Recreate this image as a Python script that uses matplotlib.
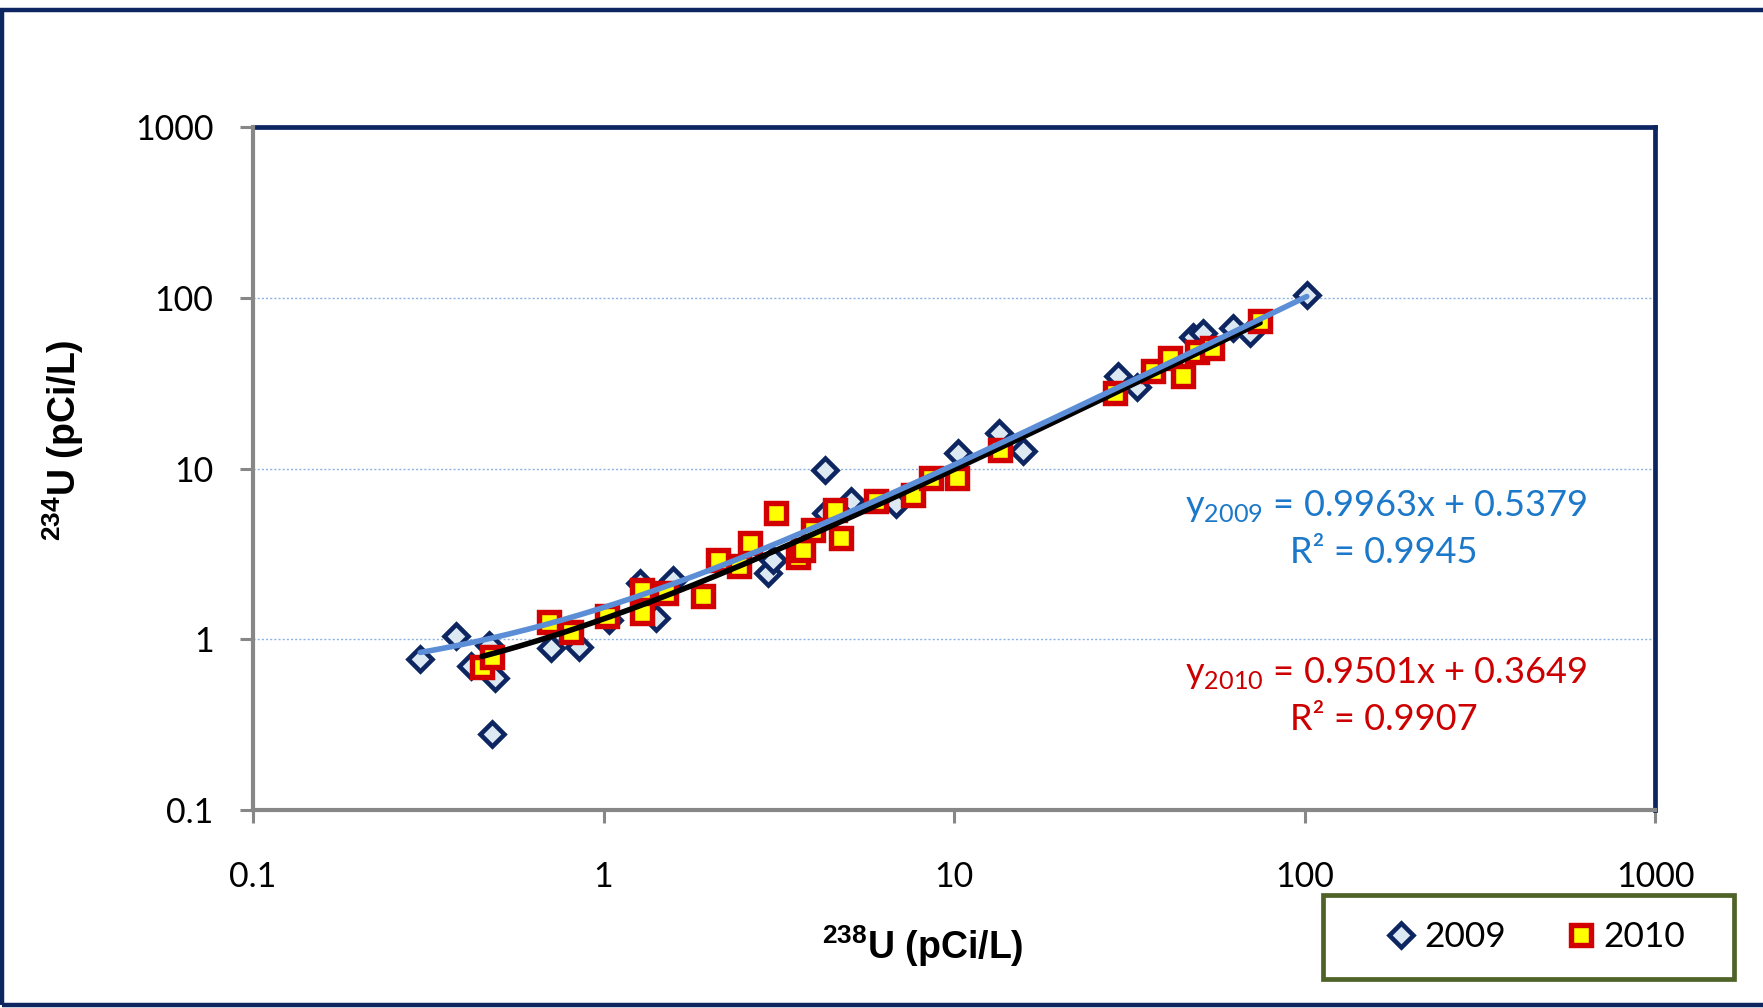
import numpy as np
import matplotlib
matplotlib.use("Agg")
import matplotlib.pyplot as plt
from matplotlib.lines import Line2D
from matplotlib.patches import Rectangle

# ---------------- data ----------------
x2009 = [0.30, 0.38, 0.42, 0.47, 0.48, 0.49, 0.71, 0.85, 1.04, 1.27, 1.41, 1.58,
         2.94, 3.04, 4.29, 4.32, 5.09, 6.81, 10.3, 13.4, 15.7, 29.4, 33.2,
         48.2, 51.4, 62.6, 69.9, 101.5]
y2009 = [0.77, 1.05, 0.70, 0.93, 0.28, 0.59, 0.89, 0.90, 1.30, 2.13, 1.33, 2.23,
         2.44, 2.92, 9.84, 5.48, 6.42, 6.2, 12.3, 16.1, 12.6, 34.6, 30.2,
         59.3, 62.1, 66.3, 62.1, 103.8]
x2010 = [0.45, 0.48, 0.70, 0.81, 1.02, 1.29, 1.29, 1.51, 1.92, 2.12, 2.44, 2.61,
         3.11, 3.58, 3.70, 3.96, 4.57, 4.77, 6.0, 7.64, 8.57, 10.2, 13.5,
         28.8, 37.0, 41.3, 45.1, 49.2, 54.3, 74.7]
y2010 = [0.69, 0.79, 1.27, 1.11, 1.37, 1.95, 1.42, 1.86, 1.78, 2.92, 2.67, 3.66,
         5.48, 3.05, 3.35, 4.38, 5.74, 3.92, 6.42, 7.02, 8.79, 8.79, 12.9,
         27.6, 37.0, 44.3, 34.6, 48.4, 50.7, 72.6]
fit2009 = [0.9963, 0.5379]   # slope, intercept
fit2010 = [0.9501, 0.3649]
r2_2009 = "0.9945"
r2_2010 = "0.9907"
tick_vals = [0.1, 1, 10, 100, 1000]
tick_labels = ["0.1", "1", "10", "100", "1000"]
series_labels = ["2009", "2010"]

# ---------------- figure ----------------
W, H = 1763, 1008
fig = plt.figure(figsize=(W / 100, H / 100), dpi=100)
fig.patch.set_facecolor("white")

def fx(px):
    return px / W

def fy(py):
    return 1 - py / H

NAVY = "#0D2560"
GREY = "#878787"

# outer frame (top, left, bottom; right side runs off the canvas)
fig.patches.append(Rectangle((fx(1.5), fy(1005)), 2.0, (1005 - 10) / H,
                             transform=fig.transFigure, fill=False,
                             edgecolor=NAVY, linewidth=3.2, zorder=0))

ax = fig.add_axes([fx(253), fy(810), (1655 - 253) / W, (810 - 127) / H])
ax.set_xscale("log")
ax.set_yscale("log")
ax.set_xlim(0.1, 1000)
ax.set_ylim(0.1, 1000)

# grid
ax.grid(axis="y", which="major", color="#8DB3E2", linestyle=(0, (1.5, 1.5)),
        linewidth=1.0, zorder=0)
ax.grid(axis="x", visible=False)

D_STYLE = dict(marker="D", ms=12.5, mfc="#DCE8F2", mec=NAVY, mew=3.3)
S_STYLE = dict(marker="s", ms=14.5, mfc="#FFFF00", mec="#D20000", mew=3.9)

# points
ax.plot(x2009, y2009, linestyle="none", zorder=3, **D_STYLE)
ax.plot(x2010, y2010, linestyle="none", zorder=4, **S_STYLE)

# linear trend lines (drawn on log axes)
xs10 = np.geomspace(min(x2010), max(x2010), 300)
ax.plot(xs10, fit2010[0] * xs10 + fit2010[1], color="black", lw=4.0,
        zorder=5, solid_capstyle="round")
xs09 = np.geomspace(min(x2009), max(x2009), 300)
ax.plot(xs09, fit2009[0] * xs09 + fit2009[1], color="#5B8ED6", lw=4.0,
        zorder=6, solid_capstyle="round")

# spines
for s in ["top", "right"]:
    ax.spines[s].set_color(NAVY)
    ax.spines[s].set_linewidth(3.4)
for s in ["left", "bottom"]:
    ax.spines[s].set_color(GREY)
    ax.spines[s].set_linewidth(3.0)
    ax.spines[s].set_zorder(7)

ax.set_xticks(tick_vals)
ax.set_xticklabels(tick_labels)
ax.set_yticks(tick_vals)
ax.set_yticklabels(tick_labels)
ax.xaxis.set_minor_locator(matplotlib.ticker.NullLocator())
ax.yaxis.set_minor_locator(matplotlib.ticker.NullLocator())
ax.tick_params(axis="both", which="major", direction="out", length=9.5,
               width=2.2, color=GREY, labelsize=24.5, top=False, right=False)
ax.tick_params(axis="x", pad=27)
ax.tick_params(axis="y", pad=19)
for lab in ax.get_xticklabels() + ax.get_yticklabels():
    lab.set_fontfamily("Lato")

# axis titles
fig.text(fx(923), fy(946), r"$^{\mathregular{238}}$U (pCi/L)", ha="center",
         va="center", fontsize=27, fontweight="bold", family="Liberation Sans")
fig.text(fx(63), fy(440), r"$^{\mathregular{234}}$U (pCi/L)", ha="center",
         va="center", rotation=90, fontsize=27, fontweight="bold",
         family="Liberation Sans")

# equations
BLUE_T = "#1C78C8"
RED_T = "#CC0000"
fig.text(fx(1386), fy(516.5),
         r"y$_{\mathregular{2009}}$" + f" = {fit2009[0]:.4f}x + {fit2009[1]:.4f}",
         ha="center", va="baseline", fontsize=26, color=BLUE_T, family="Lato")
fig.text(fx(1384), fy(563), f"R² = {r2_2009}", ha="center", va="baseline",
         fontsize=26, color=BLUE_T, family="Lato")
fig.text(fx(1386), fy(683),
         r"y$_{\mathregular{2010}}$" + f" = {fit2010[0]:.4f}x + {fit2010[1]:.4f}",
         ha="center", va="baseline", fontsize=26, color=RED_T, family="Lato")
fig.text(fx(1384), fy(730), f"R² = {r2_2010}", ha="center", va="baseline",
         fontsize=26, color=RED_T, family="Lato")

# legend box
fig.patches.append(Rectangle((fx(1323), fy(979)), 411 / W, 84 / H,
                             transform=fig.transFigure, facecolor="white",
                             edgecolor="#4F6228", linewidth=3.4, zorder=1))
handles = [
    Line2D([], [], linestyle="none", **D_STYLE),
    Line2D([], [], linestyle="none", **S_STYLE),
]
leg = fig.legend(handles, series_labels, loc="center",
                 bbox_to_anchor=(fx(1538), fy(937)), ncol=2, frameon=False,
                 prop={"family": "Lato", "size": 25.5}, handlelength=0.6,
                 handletextpad=0.35, columnspacing=1.8, borderpad=0.2)
leg.set_zorder(3)

fig.savefig("out.png", dpi=100)
